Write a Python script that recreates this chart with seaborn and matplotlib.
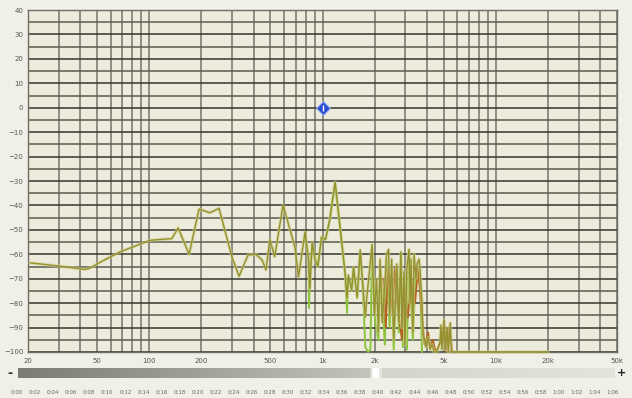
import numpy as np
import pandas as pd
import seaborn as sns
import matplotlib.pyplot as plt
from matplotlib.ticker import FixedLocator, NullFormatter
from matplotlib.colors import LinearSegmentedColormap

# Main (olive) response trace, Hz / dB
freq_main = [20.5, 30, 43, 46, 52, 68, 89, 101, 123, 135, 147, 170, 194, 224, 253,
             300, 330, 372, 413, 448, 472, 497, 530, 592, 650, 695, 727, 793, 831,
             845, 872, 907, 940, 987, 1040, 1100, 1182, 1262, 1350, 1385, 1410,
             1475, 1510, 1585, 1650, 1700, 1767, 1800, 1932, 1990, 2050, 2100,
             2150, 2210, 2290, 2342, 2406, 2440, 2505, 2575, 2647, 2680, 2756,
             2834, 2870, 2953, 2990, 3070, 3156, 3200, 3243, 3320, 3373, 3464,
             3510, 3604, 3650, 3750, 3800, 3880, 3961, 4070, 4175, 4290, 4400,
             4570, 4760, 4825, 4890, 5030, 5100, 5240, 5320, 5460, 5540, 5860,
             10000, 20000]
db_main = [-63.5, -64.8, -66.2, -65.5, -63.3, -59, -55.8, -54.3, -53.8, -53.6,
           -49.2, -60, -41.5, -43, -41.2, -61, -69, -60.3, -60, -62.3, -66.4, -54,
           -61, -39.8, -50, -57.4, -69.3, -50.9, -62.3, -74, -55, -62.3, -65, -53,
           -54, -46, -30.4, -48.8, -67.6, -78, -68.5, -74.6, -65.2, -77.5, -58.2,
           -70.5, -85.7, -78, -56, -85, -70, -92, -62, -88, -72, -60, -58, -85,
           -62, -95, -75, -64, -88, -59, -90, -67, -97, -65, -58, -80, -62, -92,
           -60, -70, -64, -62, -66, -80, -93, -95, -98, -94, -99, -97, -100, -100,
           -96, -89, -99, -87, -99, -90, -100, -88, -100, -100, -100, -100]

# Second channel (green), mostly under the main trace with deeper dips
freq_green = [793, 831, 836, 845, 872, 907, 940, 987, 1040, 1100, 1182, 1262, 1350,
              1385, 1410, 1475, 1510, 1585, 1650, 1700, 1767, 1830, 1890, 1932,
              2016, 2100, 2152, 2290, 2342, 2440, 2505, 2575, 2700, 2756, 2834,
              2910, 2990, 3070, 3156, 3320, 3464, 3650, 3750]
db_green = [-51, -62, -82, -70, -56, -62, -65, -53, -54, -46, -31, -49, -68, -84,
            -69, -75, -66, -78, -59, -71, -98, -100, -99, -57, -88, -95, -65, -97,
            -62, -90, -64, -99, -66, -92, -60, -98, -70, -99, -59, -95, -66, -68,
            -100]

# Third channel (brown) in the upper mids
freq_brown = [2245, 2320, 2380, 2538, 2610, 2700, 2870, 2953, 3110, 3243, 3420,
              3555, 3750, 3880, 4070, 4175, 4330, 4500, 4890, 5030, 5170, 5390,
              5620]
db_brown = [-70, -90, -66, -84, -66, -80, -95, -72, -86, -70, -80, -66, -85, -97,
            -92, -98, -95, -100, -95, -88, -100, -90, -100]

freq_ticks = [20, 50, 100, 200, 500, 1000, 2000, 5000, 10000, 20000, 50000]
freq_labels = ['20', '50', '100', '200', '500', '1k', '2k', '5k', '10k', '20k', '50k']
db_ticks = list(range(-100, 41, 10))
time_labels = ['%d:%02d' % divmod(s, 60) for s in range(0, 67, 2)]

sns.set_style('white')
plt.rcParams['font.family'] = ['DejaVu Sans']

fig = plt.figure(figsize=(6.32, 3.98), dpi=100, facecolor='#f1f0e8')
W, H = 632, 398
ax = fig.add_axes([28 / W, 1 - 352 / H, 589 / W, 342 / H])
ax.set_facecolor('#ecebdc')

main = pd.DataFrame({'freq': freq_main, 'db': db_main})
green = pd.DataFrame({'freq': freq_green, 'db': db_green})
brown = pd.DataFrame({'freq': freq_brown, 'db': db_brown})

sns.lineplot(data=green, x='freq', y='db', ax=ax, color='#8cc43c', lw=1.4,
             sort=False, estimator=None, zorder=3)
sns.lineplot(data=brown, x='freq', y='db', ax=ax, color='#b0641e', lw=1.3,
             sort=False, estimator=None, zorder=4)
sns.lineplot(data=main, x='freq', y='db', ax=ax, color='#cfcf8a', lw=2.4,
             sort=False, estimator=None, zorder=5, alpha=0.6)
sns.lineplot(data=main, x='freq', y='db', ax=ax, color='#959130', lw=1.0,
             sort=False, estimator=None, zorder=6)
for ln in ax.lines:
    ln.set_clip_on(False)

# marker handle at 1 kHz / 0 dB
ax.plot([1000], [0], marker='D', ms=7, color='#2b4fd0', mec='#9fb0f0', mew=0.8, zorder=8)
ax.plot([1000], [0], marker='|', ms=4, color='white', mew=1.0, zorder=9)

ax.set_xscale('log')
ax.set_xlim(20, 50000)
ax.set_ylim(-100, 40)

minor = [m * d for d in [10, 100, 1000, 10000] for m in range(1, 10)
         if 20 <= m * d <= 50000 and m * d not in freq_ticks]
ax.xaxis.set_major_locator(FixedLocator(freq_ticks))
ax.xaxis.set_minor_locator(FixedLocator(minor))
ax.xaxis.set_minor_formatter(NullFormatter())
ax.set_xticklabels(freq_labels)
ax.yaxis.set_major_locator(FixedLocator(db_ticks))
ax.yaxis.set_minor_locator(FixedLocator(list(range(-95, 40, 10))))

ax.grid(True, which='both', axis='x', color='#74746a', lw=1.1)
ax.grid(True, which='major', axis='y', color='#35352c', lw=1.1)
ax.grid(True, which='minor', axis='y', color='#5a5a50', lw=1.1)
ax.set_axisbelow(True)
ax.tick_params(axis='both', which='both', length=2, width=0.5, color='#777',
               labelsize=5, labelcolor='#555555', pad=1.5)
ax.tick_params(axis='x', which='both', length=0, pad=4)
ax.set_xlabel('')
ax.set_ylabel('')
for s in ax.spines.values():
    s.set_color('#6e6e64')
    s.set_linewidth(1.0)

# scrollbar strip
sb = fig.add_axes([18 / W, 1 - 378 / H, 597 / W, 10 / H])
grad = np.linspace(0, 1, 600)
cmap = LinearSegmentedColormap.from_list('sb', [(0, '#7c7c74'), (0.59, '#c4c4bc'),
                                                (0.595, '#ffffff'), (0.605, '#ffffff'),
                                                (0.61, '#d4d4cc'), (1, '#e4e4dc')])
sb.imshow(grad[None, :], aspect='auto', cmap=cmap, extent=[0, 1, 0, 1])
sb.axis('off')
fig.text(10 / W, 1 - 373 / H, '-', fontsize=9, fontweight='bold', ha='center', va='center', color='#222')
fig.text(621 / W, 1 - 373 / H, '+', fontsize=8, fontweight='bold', ha='center', va='center', color='#222')

# time ruler
ru = fig.add_axes([17 / W, 1 - 387 / H, 596 / W, 7 / H])
ru.set_facecolor('none')
ru.set_xlim(0, 66)
ru.set_ylim(0, 1)
ru.set_xticks(range(0, 67, 2))
ru.set_xticklabels(time_labels)
ru.set_xticks(np.arange(0, 66.01, 0.5), minor=True)
ru.set_yticks([])
for s in ru.spines.values():
    s.set_visible(False)
ru.tick_params(axis='x', which='major', length=4, width=0.5, color='#888',
               direction='in', labelsize=4, labelcolor='#666', pad=2)
ru.tick_params(axis='x', which='minor', length=2, width=0.4, color='#999', direction='in')

fig.savefig('out.png', dpi=100, facecolor=fig.get_facecolor())
